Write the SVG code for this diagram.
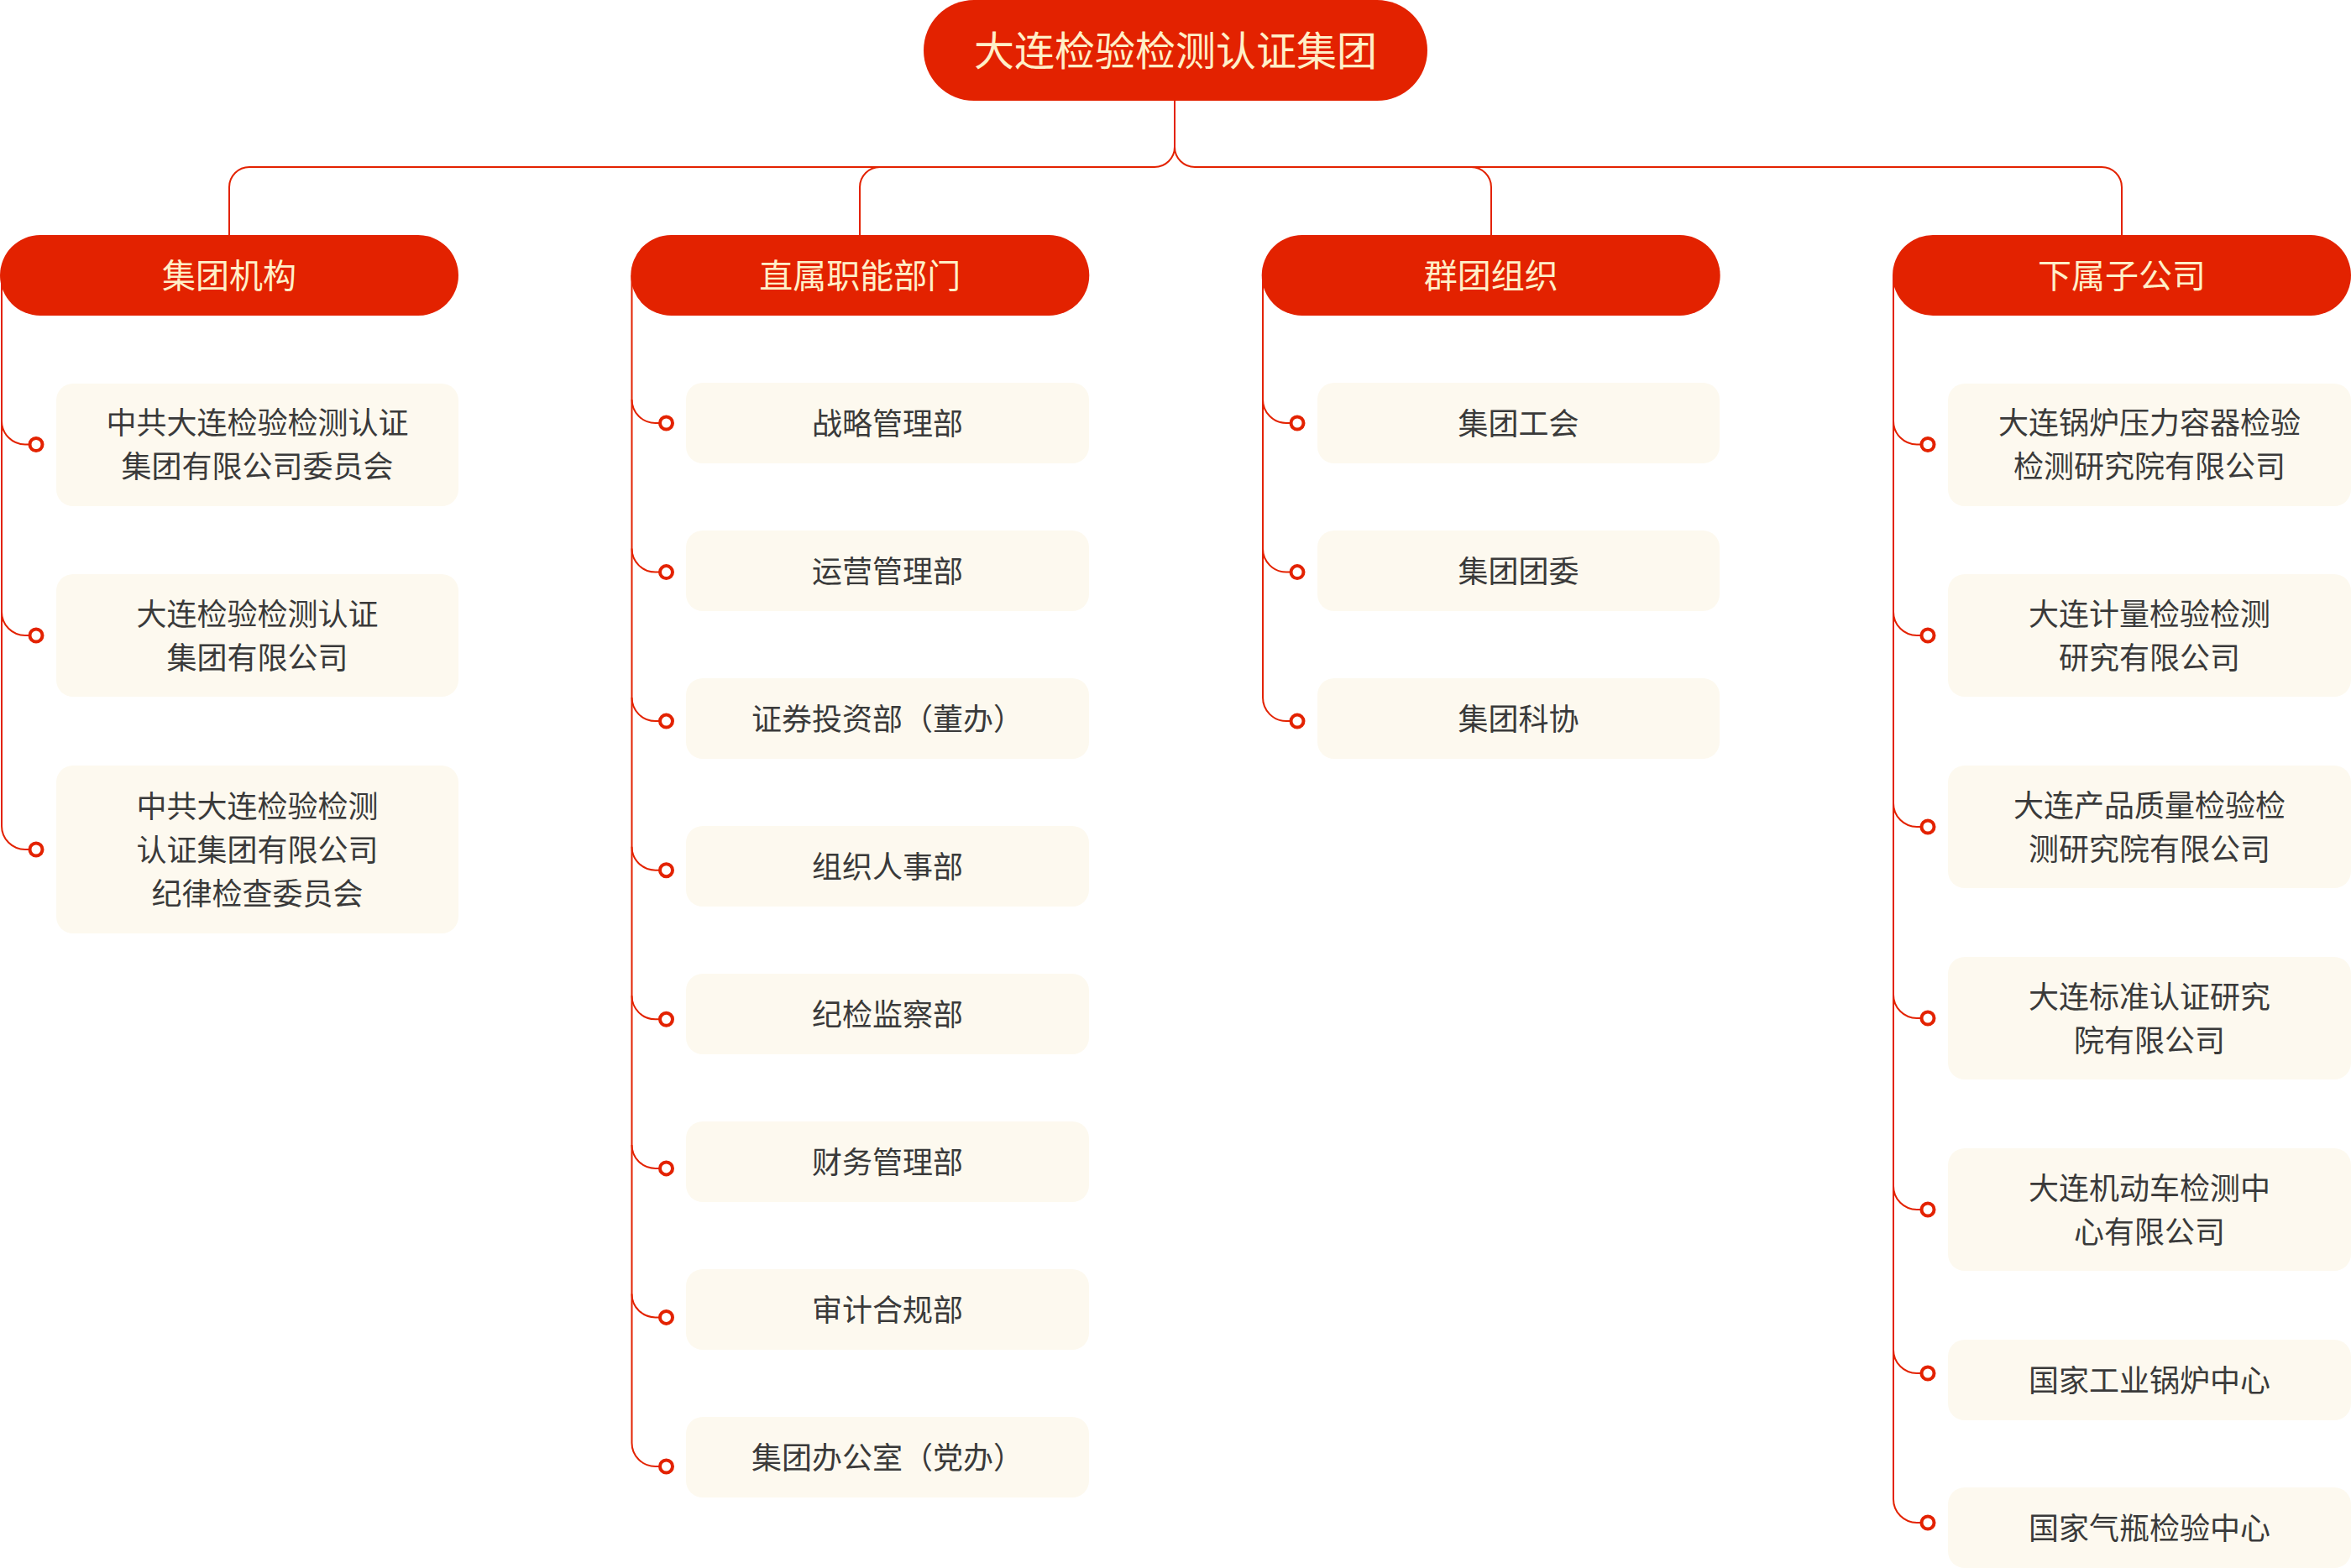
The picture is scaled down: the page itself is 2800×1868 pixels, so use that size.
<svg xmlns="http://www.w3.org/2000/svg" width="2800" height="1868" viewBox="0 0 2800 1868">
<style>
.bg{fill:#FFFFFF}
.pill{fill:#E32200}
.ptxt{fill:#FFEFC8;font-family:"Noto Sans CJK SC","Noto Sans CJK TC",sans-serif;font-size:40px;text-anchor:middle}
.rtxt{fill:#FFEFC8;font-family:"Noto Sans CJK SC","Noto Sans CJK TC",sans-serif;font-size:48px;text-anchor:middle}
.box{fill:#FDF9EF}
.btxt{fill:#3A3A3A;font-family:"Noto Sans CJK SC","Noto Sans CJK TC",sans-serif;font-size:36px;text-anchor:middle}
.ln{fill:none;stroke:#E32200;stroke-width:2}
.dot{fill:#FFFFFF;stroke:#E32200;stroke-width:4}
</style>
<rect class="bg" x="0" y="0" width="2800" height="1868"/>
<g id="connectors">
  <path class="ln" d="M1399,120 V175 A24,24 0 0 1 1375,199 H297 A24,24 0 0 0 273,223 V280"/>
  <path class="ln" d="M1399,175 A24,24 0 0 0 1423,199 H2503 A24,24 0 0 1 2527,223 V280"/>
  <path class="ln" d="M1024,280 V223 A24,24 0 0 1 1048,199 H1375"/>
  <path class="ln" d="M1776,280 V223 A24,24 0 0 0 1752,199 H1423"/>
  <!-- cat 1 -->
  <path class="ln" d="M2,328 V984"/>
  <path class="ln" d="M2,501.5 A28,28 0 0 0 30,529.5 H35.5"/>
  <path class="ln" d="M2,729 A28,28 0 0 0 30,757 H35.5"/>
  <path class="ln" d="M2,984 A28,28 0 0 0 30,1012 H35.5"/>
  <circle class="dot" cx="43" cy="529.5" r="7.5"/>
  <circle class="dot" cx="43" cy="757" r="7.5"/>
  <circle class="dot" cx="43" cy="1012" r="7.5"/>
  <!-- cat 2 -->
  <path class="ln" d="M752.5,328 V1719"/>
  <path class="ln" d="M752.5,476 A28,28 0 0 0 780.5,504 H786"/>
  <path class="ln" d="M752.5,653.6 A28,28 0 0 0 780.5,681.6 H786"/>
  <path class="ln" d="M752.5,831.1 A28,28 0 0 0 780.5,859.1 H786"/>
  <path class="ln" d="M752.5,1008.7 A28,28 0 0 0 780.5,1036.7 H786"/>
  <path class="ln" d="M752.5,1186.3 A28,28 0 0 0 780.5,1214.3 H786"/>
  <path class="ln" d="M752.5,1363.9 A28,28 0 0 0 780.5,1391.9 H786"/>
  <path class="ln" d="M752.5,1541.4 A28,28 0 0 0 780.5,1569.4 H786"/>
  <path class="ln" d="M752.5,1719 A28,28 0 0 0 780.5,1747 H786"/>
  <circle class="dot" cx="793.5" cy="504" r="7.5"/>
  <circle class="dot" cx="793.5" cy="681.6" r="7.5"/>
  <circle class="dot" cx="793.5" cy="859.1" r="7.5"/>
  <circle class="dot" cx="793.5" cy="1036.7" r="7.5"/>
  <circle class="dot" cx="793.5" cy="1214.3" r="7.5"/>
  <circle class="dot" cx="793.5" cy="1391.9" r="7.5"/>
  <circle class="dot" cx="793.5" cy="1569.4" r="7.5"/>
  <circle class="dot" cx="793.5" cy="1747" r="7.5"/>
  <!-- cat 3 -->
  <path class="ln" d="M1504,328 V831.1"/>
  <path class="ln" d="M1504,476 A28,28 0 0 0 1532,504 H1537.5"/>
  <path class="ln" d="M1504,653.6 A28,28 0 0 0 1532,681.6 H1537.5"/>
  <path class="ln" d="M1504,831.1 A28,28 0 0 0 1532,859.1 H1537.5"/>
  <circle class="dot" cx="1545" cy="504" r="7.5"/>
  <circle class="dot" cx="1545" cy="681.6" r="7.5"/>
  <circle class="dot" cx="1545" cy="859.1" r="7.5"/>
  <!-- cat 4 -->
  <path class="ln" d="M2255,328 V1786"/>
  <path class="ln" d="M2255,501.5 A28,28 0 0 0 2283,529.5 H2288.5"/>
  <path class="ln" d="M2255,729 A28,28 0 0 0 2283,757 H2288.5"/>
  <path class="ln" d="M2255,957 A28,28 0 0 0 2283,985 H2288.5"/>
  <path class="ln" d="M2255,1185 A28,28 0 0 0 2283,1213 H2288.5"/>
  <path class="ln" d="M2255,1413 A28,28 0 0 0 2283,1441 H2288.5"/>
  <path class="ln" d="M2255,1608 A28,28 0 0 0 2283,1636 H2288.5"/>
  <path class="ln" d="M2255,1786 A28,28 0 0 0 2283,1814 H2288.5"/>
  <circle class="dot" cx="2296" cy="529.5" r="7.5"/>
  <circle class="dot" cx="2296" cy="757" r="7.5"/>
  <circle class="dot" cx="2296" cy="985" r="7.5"/>
  <circle class="dot" cx="2296" cy="1213" r="7.5"/>
  <circle class="dot" cx="2296" cy="1441" r="7.5"/>
  <circle class="dot" cx="2296" cy="1636" r="7.5"/>
  <circle class="dot" cx="2296" cy="1814" r="7.5"/>
</g>
<g id="root">
  <rect class="pill" x="1100" y="0" width="600" height="120" rx="60"/>
  <text class="rtxt" x="1400" y="78">大连检验检测认证集团</text>
</g>
<g id="cat1">
  <rect class="pill" x="0" y="280" width="546" height="96" rx="48"/>
  <text class="ptxt" x="273" y="343">集团机构</text>
</g>
<g id="cat2">
  <rect class="pill" x="751.3" y="280" width="546" height="96" rx="48"/>
  <text class="ptxt" x="1024.3" y="343">直属职能部门</text>
</g>
<g id="cat3">
  <rect class="pill" x="1502.7" y="280" width="546" height="96" rx="48"/>
  <text class="ptxt" x="1775.7" y="343">群团组织</text>
</g>
<g id="cat4">
  <rect class="pill" x="2254" y="280" width="546" height="96" rx="48"/>
  <text class="ptxt" x="2527" y="343">下属子公司</text>
</g>
<!-- cat 1 children -->
<g id="c1-1">
  <rect class="box" x="67" y="457" width="479" height="146" rx="20"/>
  <text class="btxt" x="306.5" y="517"><tspan x="306.5">中共大连检验检测认证</tspan><tspan x="306.5" dy="52">集团有限公司委员会</tspan></text>
</g>
<g id="c1-2">
  <rect class="box" x="67" y="684" width="479" height="146" rx="20"/>
  <text class="btxt" x="306.5" y="744.5"><tspan x="306.5">大连检验检测认证</tspan><tspan x="306.5" dy="52">集团有限公司</tspan></text>
</g>
<g id="c1-3">
  <rect class="box" x="67" y="912" width="479" height="200" rx="20"/>
  <text class="btxt" x="306.5" y="973.5"><tspan x="306.5">中共大连检验检测</tspan><tspan x="306.5" dy="52">认证集团有限公司</tspan><tspan x="306.5" dy="52">纪律检查委员会</tspan></text>
</g>
<!-- cat 2 children -->
<g id="c2-1"><rect class="box" x="817" y="456" width="480" height="96" rx="20"/><text class="btxt" x="1057" y="517.5">战略管理部</text></g>
<g id="c2-2"><rect class="box" x="817" y="632" width="480" height="96" rx="20"/><text class="btxt" x="1057" y="693.5">运营管理部</text></g>
<g id="c2-3"><rect class="box" x="817" y="808" width="480" height="96" rx="20"/><text class="btxt" x="1057" y="869.5">证券投资部（董办）</text></g>
<g id="c2-4"><rect class="box" x="817" y="984" width="480" height="96" rx="20"/><text class="btxt" x="1057" y="1045.5">组织人事部</text></g>
<g id="c2-5"><rect class="box" x="817" y="1160" width="480" height="96" rx="20"/><text class="btxt" x="1057" y="1221.5">纪检监察部</text></g>
<g id="c2-6"><rect class="box" x="817" y="1336" width="480" height="96" rx="20"/><text class="btxt" x="1057" y="1397.5">财务管理部</text></g>
<g id="c2-7"><rect class="box" x="817" y="1512" width="480" height="96" rx="20"/><text class="btxt" x="1057" y="1573.5">审计合规部</text></g>
<g id="c2-8"><rect class="box" x="817" y="1688" width="480" height="96" rx="20"/><text class="btxt" x="1057" y="1749.5">集团办公室（党办）</text></g>
<!-- cat 3 children -->
<g id="c3-1"><rect class="box" x="1569" y="456" width="479" height="96" rx="20"/><text class="btxt" x="1808.5" y="517.5">集团工会</text></g>
<g id="c3-2"><rect class="box" x="1569" y="632" width="479" height="96" rx="20"/><text class="btxt" x="1808.5" y="693.5">集团团委</text></g>
<g id="c3-3"><rect class="box" x="1569" y="808" width="479" height="96" rx="20"/><text class="btxt" x="1808.5" y="869.5">集团科协</text></g>
<!-- cat 4 children -->
<g id="c4-1">
  <rect class="box" x="2320" y="457" width="480" height="146" rx="20"/>
  <text class="btxt" x="2560" y="517"><tspan x="2560">大连锅炉压力容器检验</tspan><tspan x="2560" dy="52">检测研究院有限公司</tspan></text>
</g>
<g id="c4-2">
  <rect class="box" x="2320" y="684" width="480" height="146" rx="20"/>
  <text class="btxt" x="2560" y="744.5"><tspan x="2560">大连计量检验检测</tspan><tspan x="2560" dy="52">研究有限公司</tspan></text>
</g>
<g id="c4-3">
  <rect class="box" x="2320" y="912" width="480" height="146" rx="20"/>
  <text class="btxt" x="2560" y="972.5"><tspan x="2560">大连产品质量检验检</tspan><tspan x="2560" dy="52">测研究院有限公司</tspan></text>
</g>
<g id="c4-4">
  <rect class="box" x="2320" y="1140" width="480" height="146" rx="20"/>
  <text class="btxt" x="2560" y="1200.5"><tspan x="2560">大连标准认证研究</tspan><tspan x="2560" dy="52">院有限公司</tspan></text>
</g>
<g id="c4-5">
  <rect class="box" x="2320" y="1368" width="480" height="146" rx="20"/>
  <text class="btxt" x="2560" y="1428.5"><tspan x="2560">大连机动车检测中</tspan><tspan x="2560" dy="52">心有限公司</tspan></text>
</g>
<g id="c4-6"><rect class="box" x="2320" y="1596" width="480" height="96" rx="20"/><text class="btxt" x="2560" y="1657.5">国家工业锅炉中心</text></g>
<g id="c4-7"><rect class="box" x="2320" y="1772" width="480" height="96" rx="20"/><text class="btxt" x="2560" y="1833.5">国家气瓶检验中心</text></g>
</svg>
